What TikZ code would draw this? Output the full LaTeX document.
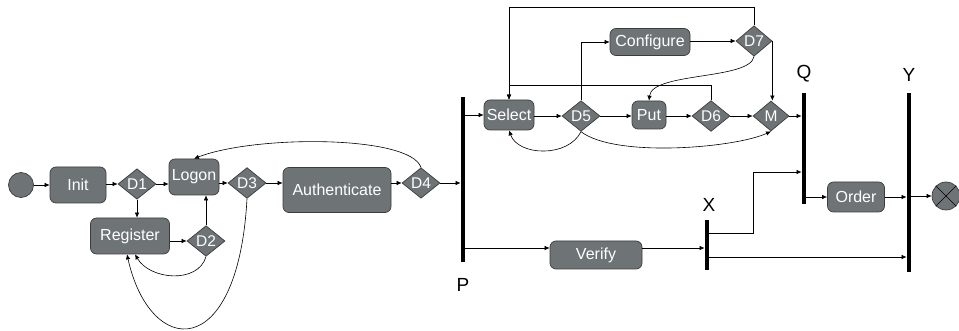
\documentclass[tikz,border=0pt]{standalone}
\usepackage{fontspec}
\setmainfont{Liberation Sans}
\usetikzlibrary{shapes.geometric,arrows.meta}
\definecolor{boxgray}{RGB}{110,116,118}
\definecolor{edgegray}{RGB}{60,60,60}

\begin{document}
\begin{tikzpicture}[
    x=1pt, y=-1pt,
    every node/.style={anchor=center},
    activity/.style={draw=edgegray, fill=boxgray, rounded corners=6pt, text=white, line width=0.7pt,
        inner sep=2pt, font=\fontsize{16}{18}\selectfont},
    decision/.style={diamond, draw=edgegray, fill=boxgray, text=white, line width=0.7pt, inner sep=0pt,
        minimum width=38pt, minimum height=30pt, font=\fontsize{15.5}{17}\selectfont},
    bar/.style={fill=black, inner sep=0pt, minimum width=4.5pt},
    barlabel/.style={font=\fontsize{19}{21}\selectfont},
    state/.style={circle, draw=edgegray, fill=boxgray, line width=0.7pt, inner sep=0pt},
    arrow/.style={-{Latex[length=5pt,width=4.5pt]}, line width=0.6pt}
    ]
\useasboundingbox (0,0) rectangle (959,331);

% Login part
\node[state, minimum size=25pt] (Start) at (21,185) {};
\node[activity, minimum width=56pt, minimum height=36pt] (Init) at (78,185) {Init};
\node[decision] (D1) at (137,184) {D1};
\node[activity, minimum width=50pt, minimum height=36pt] (Logon) at (194,177) {Logon};
\node[activity, minimum width=79pt, minimum height=36pt] (Register) at (130,236) {Register};
\node[decision] (D2) at (206,241) {D2};
\node[decision] (D3) at (247,183) {D3};
\node[activity, minimum width=108pt, minimum height=45pt] (Auth) at (337,190) {Authenticate};
\node[decision] (D4) at (421,183) {D4};

\draw[arrow] (Start) -- (Init);
\draw[arrow] (Init.east |- D1.west) -- (D1.west);
\draw[arrow] (D1.east) -- (D1.east -| Logon.west);
\draw[arrow] (D1.south) -- (D1.south |- Register.north);
\draw[arrow] (Register.east |- D2.west) -- (D2.west);
\draw[arrow] (D2.north) -- (D2.north |- Logon.south);
\draw[arrow] (Logon.east |- D3.west) -- (D3.west);
\draw[arrow] (D3.east) -- (D3.east -| Auth.west);
\draw[arrow] (Auth.east |- D4.west) -- (D4.west);
\draw[arrow] (D4.north) .. controls (410,135) and (255,135) .. (Logon.north);
\draw[arrow] (D2.south) .. controls (198,284) and (150,280) .. ([xshift=5pt]Register.south);
\draw[arrow] (D3.south) .. controls (238,364) and (150,358) .. ([xshift=-3pt]Register.south);

% Fork P
\node[bar, minimum height=165pt] (P) at (463,179.5) {};
\node[barlabel] at (463,285) {P};
\draw[arrow] (D4.east) -- (D4.east -| P.west);

% Shopping part
\node[activity, minimum width=50pt, minimum height=30pt] (Select) at (509,115) {Select};
\node[decision] (D5) at (581,116) {D5};
\node[activity, minimum width=34pt, minimum height=28pt] (Put) at (649,115) {Put};
\node[decision] (D6) at (711,116) {D6};
\node[decision, minimum width=36pt] (M) at (771,116) {M};
\node[activity, minimum width=80pt, minimum height=27pt] (Configure) at (650,42) {Configure};
\node[decision, minimum width=36pt] (D7) at (754,41) {D7};

\draw[arrow] (P.east |- Select.west) -- (Select.west);
\draw[arrow] (Select.east |- D5.west) -- (D5.west);
\draw[arrow] (D5.east) -- (D5.east -| Put.west);
\draw[arrow] (Put.east |- D6.west) -- (D6.west);
\draw[arrow] (D6.east) -- (M.west);
\draw[arrow] (D5.north) |- (Configure.west);
\draw[arrow] (Configure.east |- D7.west) -- (D7.west);
\draw[arrow] (D7.north) |- (Select.north |- 0,7) -- (Select.north);
\draw[arrow] (D6.north) |- (Select.north |- 0,85) -- (Select.north);
\draw[arrow] (D7.east) -- (D7.east |- M.north);
\draw[arrow] (D7.south) .. controls (750,80) and (652,72) .. (Put.north);
\draw[arrow] (D5.south) .. controls (568,158) and (518,156) .. (Select.south);
\draw[arrow] (D5.south) .. controls (615,158) and (735,148) .. (M.south);

% Verify branch
\node[activity, minimum width=92pt, minimum height=28pt] (Verify) at (596,255) {Verify};
\node[bar, minimum height=50pt] (X) at (707,245) {};
\node[barlabel] at (709,205) {X};
\draw[arrow] (P.east |- 0,248) -- ([yshift=7pt]Verify.west);
\draw[arrow] ([yshift=7pt]Verify.east) -- (X.west |- 0,248);

% Join Q, order, join Y
\node[bar, minimum height=111pt] (Q) at (804,148.5) {};
\node[barlabel] at (804,74) {Q};
\node[activity, minimum width=57pt, minimum height=30pt] (Order) at (856,197) {Order};
\node[bar, minimum height=179pt] (Y) at (909,182.5) {};
\node[barlabel] at (909,75) {Y};
\node[state, minimum size=28pt] (End) at (946,196) {};
\draw[line width=0.6pt] (End.north east) -- (End.south west);
\draw[line width=0.6pt] (End.north west) -- (End.south east);

\draw[arrow] (M.east) -- (M.east -| Q.west);
\draw[arrow] (X.east |- 0,233) -| (753,172) -- (Q.west |- 0,172);
\draw[arrow] (X.east |- 0,257) -- (Y.west |- 0,257);
\draw[arrow] (Q.east |- Order.west) -- (Order.west);
\draw[arrow] (Order.east) -- (Order.east -| Y.west);
\draw[arrow] (Y.east |- End.west) -- (End.west);

\end{tikzpicture}
\end{document}
